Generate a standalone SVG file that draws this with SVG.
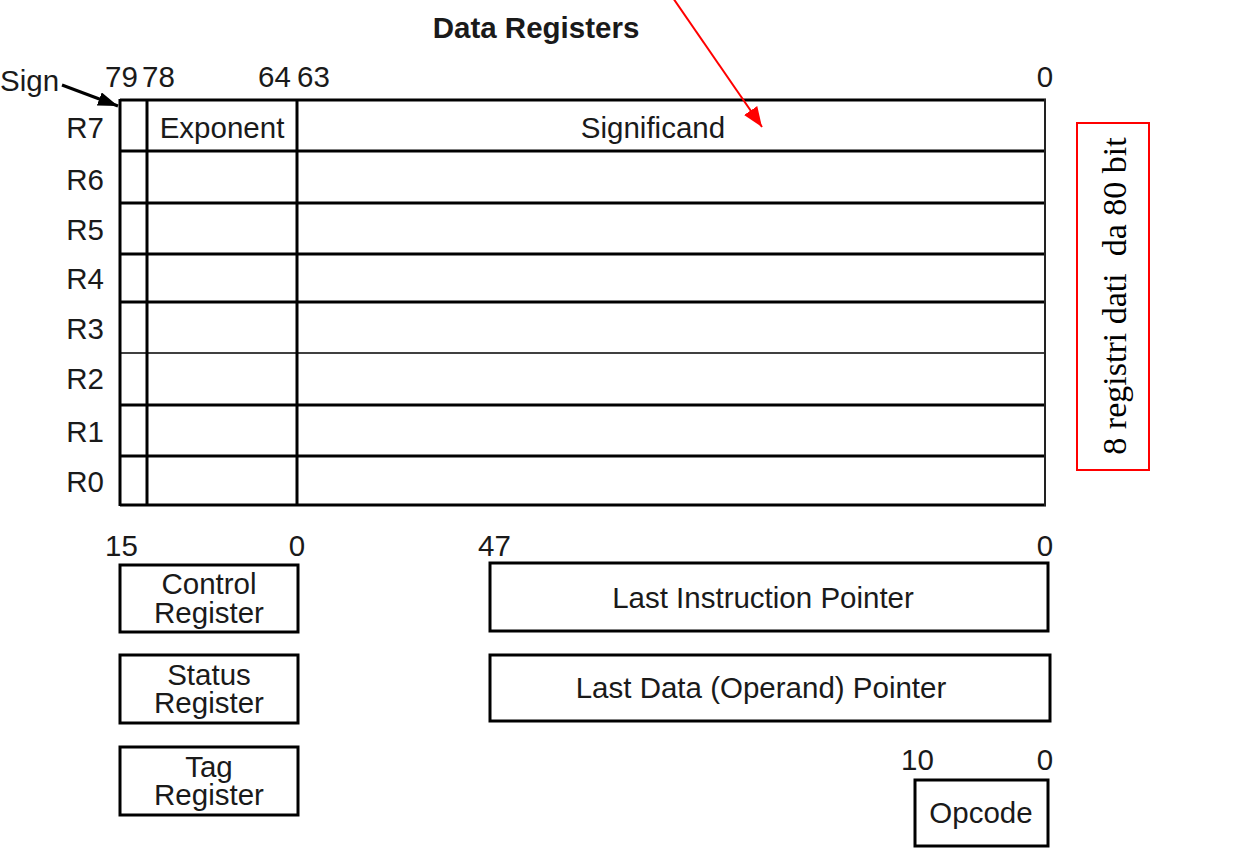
<svg xmlns="http://www.w3.org/2000/svg" width="1247" height="858" viewBox="0 0 1247 858">
<style>
text{font-family:"Liberation Sans",Arial,sans-serif;font-size:29.5px;fill:#1a1a1a}
.t{font-weight:bold;font-size:29.5px}
.m{text-anchor:middle}
.e{text-anchor:end}
.box{fill:none;stroke:#000;stroke-width:3}
.thk{stroke:#000;stroke-width:3}
.thn{stroke:#000;stroke-width:1.5}
.it{font-family:"Liberation Serif","Times New Roman",serif;font-size:34px;fill:#000;white-space:pre}
</style>
<defs>
<marker id="ab" markerWidth="20" markerHeight="14" refX="20" refY="7" orient="auto" markerUnits="userSpaceOnUse" viewBox="0 0 20 14"><path d="M0,0 L20,7 L0,14 z" fill="#000"/></marker>
<marker id="ar" markerWidth="20" markerHeight="16" refX="20" refY="8" orient="auto" markerUnits="userSpaceOnUse" viewBox="0 0 20 16"><path d="M0,0 L20,8 L0,16 z" fill="#ff0000"/></marker>
</defs>
<rect width="1247" height="858" fill="#fff"/>
<text class="t m" x="536" y="38">Data Registers</text>
<g id="bits-top">
<text x="0" y="91">Sign</text>
<text x="105" y="87">79</text>
<text x="142" y="87">78</text>
<text x="258" y="87">64</text>
<text x="297" y="87">63</text>
<text class="m" x="1045" y="87">0</text>
</g>
<g id="data-registers">
<line class="thk" x1="120" y1="100" x2="1046" y2="100"/>
<line class="thk" x1="120" y1="151" x2="1046" y2="151"/>
<line class="thk" x1="120" y1="203" x2="1046" y2="203"/>
<line class="thk" x1="120" y1="254" x2="1046" y2="254"/>
<line class="thk" x1="120" y1="302" x2="1046" y2="302"/>
<line class="thn" x1="120" y1="353" x2="1046" y2="353"/>
<line class="thk" x1="120" y1="405" x2="1046" y2="405"/>
<line class="thk" x1="120" y1="456" x2="1046" y2="456"/>
<line class="thk" x1="120" y1="505" x2="1046" y2="505"/>
<line class="thk" x1="120" y1="99" x2="120" y2="506" stroke-width="2.5"/>
<line class="thk" x1="147" y1="99" x2="147" y2="506"/>
<line class="thk" x1="297" y1="99" x2="297" y2="506"/>
<line x1="1045" y1="99" x2="1045" y2="506" stroke="#222" stroke-width="2"/>
<text class="m" x="222" y="138">Exponent</text>
<text class="m" x="653" y="138">Significand</text>
<text class="e" x="104" y="138">R7</text>
<text class="e" x="104" y="190">R6</text>
<text class="e" x="104" y="240">R5</text>
<text class="e" x="104" y="289">R4</text>
<text class="e" x="104" y="339">R3</text>
<text class="e" x="104" y="389">R2</text>
<text class="e" x="104" y="442">R1</text>
<text class="e" x="104" y="492">R0</text>
</g>
<g id="note">
<rect x="1077" y="123" width="72" height="347" fill="none" stroke="#ff0000" stroke-width="2"/>
<text class="it m" xml:space="preserve" transform="translate(1126,296) rotate(-90)">8 registri dati  da 80 bit</text>
</g>
<g id="bits-bottom">
<text x="105" y="556">15</text>
<text class="m" x="297" y="556">0</text>
<text x="478" y="556">47</text>
<text class="m" x="1045" y="556">0</text>
<text x="901" y="770">10</text>
<text class="m" x="1045" y="770">0</text>
</g>
<g id="control-register">
<rect class="box" x="120" y="565" width="178" height="67"/>
<text class="m" x="209" y="594">Control</text>
<text class="m" x="209" y="623">Register</text>
</g>
<g id="status-register">
<rect class="box" x="120" y="655" width="178" height="68"/>
<text class="m" x="209" y="685">Status</text>
<text class="m" x="209" y="713">Register</text>
</g>
<g id="tag-register">
<rect class="box" x="120" y="747" width="178" height="68"/>
<text class="m" x="209" y="777">Tag</text>
<text class="m" x="209" y="805">Register</text>
</g>
<g id="last-instruction-pointer">
<rect class="box" x="490" y="563" width="558" height="68"/>
<text class="m" x="763" y="608">Last Instruction Pointer</text>
</g>
<g id="last-data-pointer">
<rect class="box" x="490" y="655" width="560" height="66"/>
<text class="m" x="761" y="698">Last Data (Operand) Pointer</text>
</g>
<g id="opcode">
<rect class="box" x="915" y="780" width="133" height="66"/>
<text class="m" x="981" y="823">Opcode</text>
</g>
<g id="connectors">
<line x1="62" y1="85" x2="118" y2="106" stroke="#000" stroke-width="3" marker-end="url(#ab)"/>
<line x1="673" y1="-2" x2="762" y2="127" stroke="#ff0000" stroke-width="2" marker-end="url(#ar)"/>
</g>
</svg>
